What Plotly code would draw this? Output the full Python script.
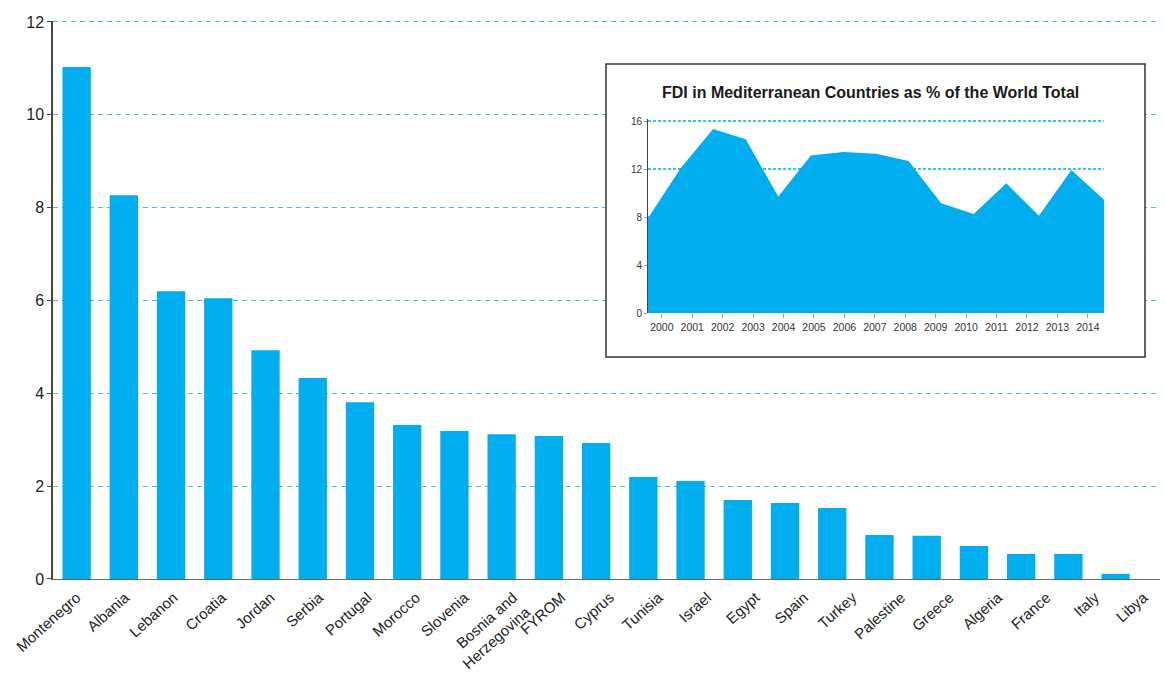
import plotly.graph_objects as go

countries = ["Montenegro", "Albania", "Lebanon", "Croatia", "Jordan", "Serbia", "Portugal",
             "Morocco", "Slovenia", "Bosnia and<br>Herzegovina", "FYROM", "Cyprus", "Tunisia",
             "Israel", "Egypt", "Spain", "Turkey", "Palestine", "Greece", "Algeria", "France",
             "Italy", "Libya"]
values = [11.03, 8.27, 6.20, 6.05, 4.93, 4.33, 3.81, 3.32, 3.19, 3.12, 3.08, 2.93, 2.20,
          2.11, 1.70, 1.64, 1.53, 0.95, 0.93, 0.71, 0.54, 0.54, 0.11]

years = list(range(2000, 2015))
fdi_share = [7.9, 12.06, 15.33, 14.47, 9.71, 13.12, 13.42, 13.28, 12.67, 9.15, 8.24,
             10.81, 8.10, 11.92, 9.43]
inset_title = "FDI in Mediterranean Countries as % of the World Total"

W, H = 1165, 675
BLUE = "#00AEEF"
GRID = "#3fbdee"
AX = "#444444"
FONT = "Liberation Sans, Arial, Helvetica, sans-serif"

def px_x(p):
    return p / W

def px_y(p):
    return 1 - p / H

# main plot pixel geometry
X0, X1 = 53, 1160
Y_TOP_VAL = 12.03
XR = [-0.5, 22.94]
Y0PX, Y12PX = 579, 22
ppu_y = (Y0PX - Y12PX) / 12.0
ppu_x = (X1 - X0) / (XR[1] - XR[0])
y_top_px = Y0PX - Y_TOP_VAL * ppu_y

# category labels in the original are spaced slightly wider than the bars
LABEL_STEP = 48.5
LABEL_FIRST = X0 + 0.5 * ppu_x
XR_LABELS = [-(LABEL_FIRST - X0) / LABEL_STEP, (X1 - LABEL_FIRST) / LABEL_STEP]

def main_x(p):
    return XR[0] + (p - X0) / ppu_x

def main_y(p):
    return (Y0PX - p) / ppu_y

# inset pixel geometry
I_Y0PX, I_Y16PX = 313, 121
I_TOP_VAL = 16.15
i_ppu = (I_Y0PX - I_Y16PX) / 16.0
i_top_px = I_Y0PX - I_TOP_VAL * i_ppu

fig = go.Figure()
fig.add_trace(go.Bar(x=list(range(len(countries))), y=values, marker_color=BLUE,
                     marker_line_width=0, width=0.6, xaxis="x", yaxis="y",
                     showlegend=False, hoverinfo="skip"))
# invisible companion trace carrying the category label axis
fig.add_trace(go.Scatter(x=list(range(len(countries))), y=values, mode="markers",
                         marker=dict(opacity=0, size=1), xaxis="x3", yaxis="y",
                         showlegend=False, hoverinfo="skip"))
fig.add_trace(go.Scatter(x=years, y=fdi_share, mode="lines", fill="tozeroy",
                         fillcolor=BLUE, line=dict(color=BLUE, width=0),
                         xaxis="x2", yaxis="y2", showlegend=False, hoverinfo="skip"))

# inset tick positions (labels sit slightly offset from data points in the original)
inset_tickvals = [2000.424 + 0.9343 * k for k in range(len(years))]

fig.update_layout(
    width=W, height=H,
    margin=dict(l=0, r=0, t=0, b=0),
    paper_bgcolor="white", plot_bgcolor="rgba(0,0,0,0)",
    font=dict(family=FONT, color="#333333"),
    xaxis=dict(domain=[px_x(X0), px_x(X1)], range=XR, showticklabels=False,
               showgrid=False, showline=True, linecolor="#666666", linewidth=1.2,
               ticks="", zeroline=False, automargin=False),
    xaxis3=dict(domain=[px_x(X0), px_x(X1)], range=XR_LABELS, overlaying="x", anchor="y",
                side="bottom",
                tickvals=list(range(len(countries))), ticktext=countries,
                tickangle=-42, tickfont=dict(size=15, color="#222222"),
                ticklabelstandoff=6,
                showgrid=False, showline=False, ticks="", zeroline=False,
                automargin=False),
    yaxis=dict(domain=[px_y(Y0PX), px_y(y_top_px)], range=[0, Y_TOP_VAL],
               tickvals=[0, 2, 4, 6, 8, 10, 12],
               tickfont=dict(size=16, color="#222222"),
               showgrid=True, gridcolor=GRID, gridwidth=1, griddash="5px,4px",
               showline=True, linecolor=AX, linewidth=1.5,
               ticks="outside", ticklen=4, tickcolor=AX,
               zeroline=False, automargin=False),
    xaxis2=dict(domain=[px_x(648), px_x(1104)], range=[2000, 2014], anchor="y2",
                tickvals=inset_tickvals, ticktext=[str(y) for y in years],
                tickfont=dict(size=10.5, color="#333333"), ticks="outside", ticklen=4,
                tickcolor="#999999", showgrid=False, showline=False, zeroline=False,
                automargin=False),
    yaxis2=dict(domain=[px_y(I_Y0PX), px_y(i_top_px)], range=[0, I_TOP_VAL],
                tickvals=[0, 4, 8, 12, 16], anchor="x2",
                tickfont=dict(size=10, color="#333333"),
                showgrid=True, gridcolor="#3fbdee", gridwidth=1.5, griddash="3px,2px",
                showline=True, linecolor=AX, linewidth=1,
                ticks="outside", ticklen=3, tickcolor="#999999",
                zeroline=False, automargin=False),
    shapes=[dict(type="rect", xref="x", yref="y",
                 x0=main_x(606), x1=main_x(1145), y0=main_y(357), y1=main_y(64),
                 fillcolor="white", line=dict(color="#333333", width=1.5),
                 layer="between")],
    annotations=[dict(text="<b>" + inset_title + "</b>", xref="paper", yref="paper",
                      x=px_x(870), y=px_y(92), xanchor="center", yanchor="middle",
                      showarrow=False, font=dict(size=16, color="#1a1a1a", family=FONT))],
)

fig.write_html("out.html", config={"displayModeBar": False},
               post_script="document.body.style.margin='0';")
